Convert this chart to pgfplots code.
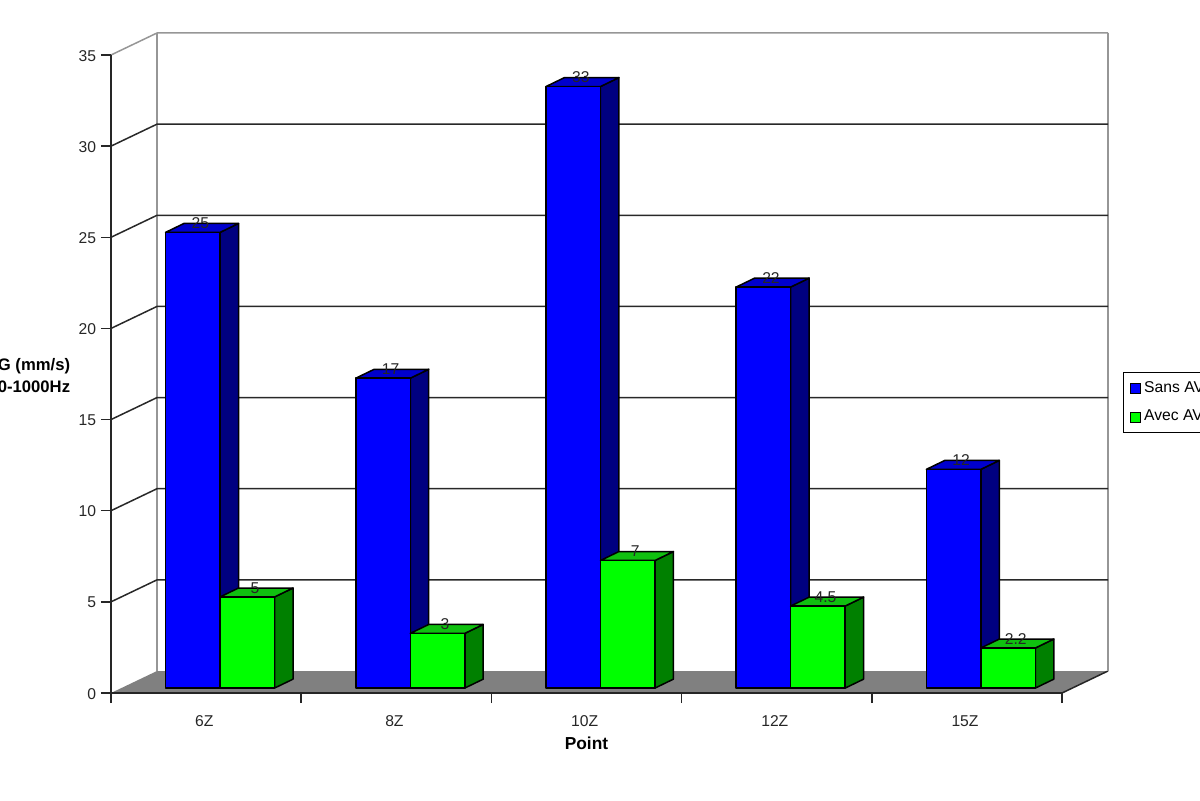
\documentclass[border=0pt]{standalone}
\usepackage{fontspec}
\setmainfont{Liberation Sans}
\usepackage{pgfplots}
\pgfplotsset{compat=1.18}

% picture is 720x480pt, so 1 reference pixel = 0.6pt
\def\bw{0.2865}   % bar width, in category units
\def\dxb{0.097}   % bar depth
\def\dyb{0.49}
\def\bbase{0.27}  % bars stand a bit behind the front edge
\def\dxw{0.2419}  % wall depth
\def\dyw{1.207}

\definecolor{sansF}{RGB}{0,0,255}
\definecolor{sansS}{RGB}{0,0,128}
\definecolor{sansT}{RGB}{0,0,205}
\definecolor{avecF}{RGB}{0,255,0}
\definecolor{avecS}{RGB}{0,128,0}
\definecolor{avecT}{RGB}{16,192,16}
\definecolor{wallgray}{RGB}{150,150,150}
\definecolor{gridgray}{RGB}{40,40,40}

\newcommand{\boxbar}[3]{% left, value, colour prefix
  \pgfmathsetmacro\xa{#1}
  \pgfmathsetmacro\xb{#1+\bw}
  \pgfmathsetmacro\xc{#1+\bw+\dxb}
  \pgfmathsetmacro\xd{#1+\dxb}
  \pgfmathsetmacro\xl{#1+\bw/2+\dxb/2}
  \pgfmathsetmacro\ya{\bbase}
  \pgfmathsetmacro\yb{\bbase+#2}
  \pgfmathsetmacro\yc{\bbase+\dyb}
  \pgfmathsetmacro\yd{\bbase+#2+\dyb}
  \edef\doit{%
    \noexpand\addplot[forget plot,fill=#3S,draw=black,line width=0.9pt,line join=round] coordinates {(\xb,\ya)(\xc,\yc)(\xc,\yd)(\xb,\yb)} -- cycle;
    \noexpand\addplot[forget plot,fill=#3T,draw=black,line width=0.9pt,line join=round] coordinates {(\xa,\yb)(\xb,\yb)(\xc,\yd)(\xd,\yd)} -- cycle;
    \noexpand\addplot[forget plot,fill=#3F,draw=black,line width=0.9pt,line join=round] coordinates {(\xa,\ya)(\xb,\ya)(\xb,\yb)(\xa,\yb)} -- cycle;
    \noexpand\addplot[forget plot,draw=none,point meta=explicit symbolic,nodes near coords] coordinates {(\xl,\yd)[#2]};
  }\doit
}
\newcommand{\gridat}[2]{% value, colour
  \pgfmathsetmacro\yg{#1+\dyw}
  \edef\doit{%
    \noexpand\addplot[forget plot,#2,line width=0.9pt] coordinates {(0,#1)(\dxw,\yg)(5+\dxw,\yg)};
  }\doit
}

\begin{document}
\begin{tikzpicture}
\useasboundingbox (0,0) rectangle (720pt,480pt);
\begin{axis}[
    at={(66.6pt,64.2pt)},
    anchor=south west,
    scale only axis,
    width=570.6pt,
    height=382.8pt,
    xmin=0, xmax=5,
    ymin=0, ymax=35,
    clip=false,
    axis on top,
    no markers,
    axis x line*=bottom,
    axis y line*=left,
    axis line style={black!85,line width=0.9pt,-},
    tick align=outside,
    tick style={black!85,line width=0.9pt},
    major tick length=6pt,
    minor tick length=6pt,
    ytick={0,5,...,35},
    xtick={0.49,1.49,2.49,3.49,4.49},
    xticklabels={6Z,8Z,10Z,12Z,15Z},
    minor xtick={0,1,2,3,4,5},
    x tick style={draw=none},
    minor x tick style={draw=black!85,line width=0.9pt},
    tick label style={font=\fontsize{9.4}{11}\selectfont,text=black!85},
    x tick label style={yshift=-4.2pt},
    y tick label style={xshift=0.6pt,yshift=-0.4pt},
    /pgf/number format/assume math mode=true,
    xlabel={Point},
    xlabel style={font=\bfseries\fontsize{10.4}{12}\selectfont,at={(axis description cs:0.5,0)},anchor=center,yshift=-30.4pt},
    ylabel={G (mm/s)\\0-1000Hz},
    ylabel style={rotate=-90,align=right,font=\bfseries\fontsize{10}{13.2}\selectfont,
        at={(axis description cs:0,0.5)},anchor=east,xshift=-21pt,yshift=-1pt},
    nodes near coords style={anchor=center,font=\fontsize{9.4}{11}\selectfont,text=black!85,inner sep=0pt,xshift=-1pt},
    legend cell align=left,
    legend style={at={(1.0642,0.503)},anchor=north west,font=\fontsize{9.4}{11}\selectfont,
        draw=black,line width=0.6pt,inner xsep=3.8pt,inner ysep=3.4pt,row sep=5pt},
    legend image code/.code={\draw[#1,line width=0.6pt] (0pt,-3.4pt) rectangle (6pt,2.6pt);},
]
% floor
\addplot[forget plot,fill=gray,draw=none] coordinates {(0,0)(5,0)(5.2419,1.207)(0.2419,1.207)} -- cycle;
\addplot[forget plot,black!85,line width=0.9pt] coordinates {(5,0)(5.2419,1.207)};
% back wall
\addplot[forget plot,wallgray,line width=0.9pt] coordinates {(0.2419,1.207)(0.2419,36.207)};
\addplot[forget plot,wallgray,line width=0.9pt] coordinates {(5.2419,1.207)(5.2419,36.207)};
\gridat{35}{wallgray}
\gridat{30}{gridgray}
\gridat{25}{gridgray}
\gridat{20}{gridgray}
\gridat{15}{gridgray}
\gridat{10}{gridgray}
\gridat{5}{gridgray}
% bars
\boxbar{0.287}{25}{sans}
\boxbar{0.5735}{5}{avec}
\boxbar{1.287}{17}{sans}
\boxbar{1.5735}{3}{avec}
\boxbar{2.287}{33}{sans}
\boxbar{2.5735}{7}{avec}
\boxbar{3.287}{22}{sans}
\boxbar{3.5735}{4.5}{avec}
\boxbar{4.287}{12}{sans}
\boxbar{4.5735}{2.2}{avec}
% legend
\addlegendimage{fill=sansF,draw=black}
\addlegendentry{Sans AV}
\addlegendimage{fill=avecF,draw=black}
\addlegendentry{Avec AV}
\end{axis}
\end{tikzpicture}
\end{document}
